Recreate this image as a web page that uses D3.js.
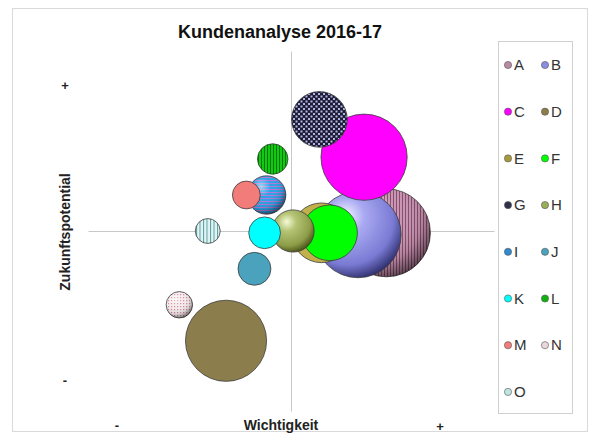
<!DOCTYPE html>
<html><head><meta charset="utf-8">
<script src="https://cdn.jsdelivr.net/npm/d3@7"></script>
<style>html,body{margin:0;padding:0;background:#fff;}svg{display:block;font-family:"Liberation Sans",Arial,sans-serif;}</style>
</head><body>
<svg id="chart" width="593" height="440"></svg>
<script>
// ---- data ----
const names  = ["A","B","C","D","E","F","G","H","I","J","K","L","M","N","O"];
const xVals  = [0.47,0.33,0.36,-0.32,0.15,0.19,0.14,0.01,-0.12,-0.18,-0.13,-0.09,-0.22,-0.55,-0.41];
const yVals  = [-0.01,-0.02,0.41,-0.61,-0.01,-0.01,0.62,0.0,0.2,-0.21,-0.01,0.4,0.2,-0.41,0.0];
const sizes  = [100,96,96,85,46,40,40,23,19,14,13,12,10,9,8];
const xTickLabels = ["-","+"];
const yTickLabels = ["-","+"];
const title = "Kundenanalyse 2016-17";
const xTitle = "Wichtigkeit";
const yTitle = "Zukunftspotential";

// ---- styles ----
const fills = {
  A:"url(#pA)", B:"url(#gB)", C:"#ff00ff", D:"#8c7e4c", E:"#c2b04a", F:"#00ff00",
  G:"url(#pG)", H:"url(#gH)", I:"url(#pI)", J:"#4aa2bc", K:"#00ffff", L:"url(#pL)",
  M:"#f27c7a", N:"url(#pN)", O:"url(#pO)"
};
const legendFills = {
  A:"#b98aa3", B:"#8c8ce0", C:"#ff00ff", D:"#8c7e4c", E:"#a89a3c", F:"#00ff00",
  G:"#30304a", H:"#9aae58", I:"#2f8ad0", J:"#4aa2bc", K:"#00ffff", L:"#10b010",
  M:"#f27c7a", N:"#e8d8dc", O:"#bfe4e4"
};
const shaded = new Set(["A","I","N"]);

const svg = d3.select("#chart");
const defs = svg.append("defs");

function stripes(id, bg, fg, vertical, period, w){
  const p = defs.append("pattern").attr("id",id).attr("patternUnits","userSpaceOnUse")
    .attr("width",period).attr("height",period);
  p.append("rect").attr("width",period).attr("height",period).attr("fill",bg);
  if(vertical) p.append("rect").attr("x",0).attr("y",0).attr("width",w).attr("height",period).attr("fill",fg);
  else p.append("rect").attr("x",0).attr("y",0).attr("width",period).attr("height",w).attr("fill",fg);
}
stripes("pA","#c896b2","#8a4a6c",true,3,1);
stripes("pI","#2ea2e6","#b07ad8",false,3,1);
stripes("pL","#12c812","#006400",true,3,0.8);
stripes("pO","#e2f4f4","#5a9ea0",true,3.5,1);
{
  const p = defs.append("pattern").attr("id","pG").attr("patternUnits","userSpaceOnUse").attr("width",5).attr("height",5);
  p.append("rect").attr("width",5).attr("height",5).attr("fill","#1c1c34");
  p.append("rect").attr("x",0.5).attr("y",0.5).attr("width",2).attr("height",2).attr("fill","#b6b6e6");
  p.append("rect").attr("x",3).attr("y",3).attr("width",2).attr("height",2).attr("fill","#b6b6e6");
}
{
  const p = defs.append("pattern").attr("id","pN").attr("patternUnits","userSpaceOnUse").attr("width",3).attr("height",3);
  p.append("rect").attr("width",3).attr("height",3).attr("fill","#f6eef0");
  p.append("rect").attr("width",1.2).attr("height",1.2).attr("fill","#d88898");
}
function radial(id, stops){
  const g = defs.append("radialGradient").attr("id",id).attr("cx","38%").attr("cy","32%").attr("r","72%").attr("fx","35%").attr("fy","28%");
  stops.forEach(s=>g.append("stop").attr("offset",s[0]).attr("stop-color",s[1]).attr("stop-opacity",s[2]==null?1:s[2]));
}
radial("gB",[["0%","#f4f4ff"],["30%","#a9a9f2"],["75%","#7a7ad4"],["100%","#2c2c6a"]]);
radial("gH",[["0%","#f6fad8"],["30%","#b4c474"],["75%","#8c9c48"],["100%","#454f14"]]);
radial("gS",[["0%","#ffffff",0.55],["35%","#ffffff",0],["75%","#000000",0.12],["100%","#000000",0.55]]);

// ---- frame ----
svg.append("rect").attr("x",12.5).attr("y",8.5).attr("width",575).attr("height",423)
  .attr("fill","#fff").attr("stroke","#d9d9d9");

// ---- scales ----
const x = d3.scaleLinear().domain([-1,1]).range([88,494]);
const y = d3.scaleLinear().domain([-1,1]).range([411,51]);
const r = d3.scaleSqrt().domain([0,d3.max(sizes)]).range([0,44]);

// axes lines through origin
const xAxis = d3.axisBottom(x).tickValues([]).tickSizeOuter(0);
const yAxis = d3.axisLeft(y).tickValues([]).tickSizeOuter(0);
svg.append("g").attr("transform",`translate(0,${y(0)})`).call(xAxis)
  .select(".domain").attr("stroke","#c8c8c8");
svg.append("g").attr("transform",`translate(${x(0)},0)`).call(yAxis)
  .select(".domain").attr("stroke","#c8c8c8");

// ---- bubbles ----
const data = names.map((n,i)=>({n, x:xVals[i], y:yVals[i], s:sizes[i]}));
const g = svg.append("g");
data.forEach(d=>{
  g.append("circle").attr("cx",x(d.x)).attr("cy",y(d.y)).attr("r",r(d.s))
    .attr("fill",fills[d.n]).attr("stroke","#3c3c3c").attr("stroke-width",0.8);
  if(shaded.has(d.n)){
    g.append("circle").attr("cx",x(d.x)).attr("cy",y(d.y)).attr("r",r(d.s))
      .attr("fill","url(#gS)").attr("stroke","none");
  }
});

// ---- titles ----
svg.append("text").attr("x",280).attr("y",38).attr("text-anchor","middle")
  .attr("font-size",18).attr("font-weight","bold").attr("fill","#111").text(title);
svg.append("text").attr("x",281).attr("y",430).attr("text-anchor","middle")
  .attr("font-size",14).attr("font-weight","bold").attr("fill","#222").text(xTitle);
svg.append("text").attr("transform","translate(70,232) rotate(-90)").attr("text-anchor","middle")
  .attr("font-size",14).attr("font-weight","bold").attr("fill","#222").text(yTitle);
// +/- labels
svg.append("text").attr("x",117).attr("y",430).attr("text-anchor","middle").attr("font-size",13).attr("font-weight","bold").attr("fill","#222").text(xTickLabels[0]);
svg.append("text").attr("x",440).attr("y",431).attr("text-anchor","middle").attr("font-size",13).attr("font-weight","bold").attr("fill","#222").text(xTickLabels[1]);
svg.append("text").attr("x",65).attr("y",90).attr("text-anchor","middle").attr("font-size",13).attr("font-weight","bold").attr("fill","#222").text(yTickLabels[1]);
svg.append("text").attr("x",65).attr("y",385).attr("text-anchor","middle").attr("font-size",13).attr("font-weight","bold").attr("fill","#222").text(yTickLabels[0]);

// ---- legend ----
svg.append("rect").attr("x",498.5).attr("y",41.5).attr("width",74).attr("height",372)
  .attr("fill","#fff").attr("stroke","#d0d0d0");
const leg = svg.append("g");
names.forEach((n,i)=>{
  const col = i%2, row = Math.floor(i/2);
  const lx = 508 + col*37, ly = 65 + row*46.7;
  leg.append("circle").attr("cx",lx).attr("cy",ly).attr("r",3.6)
    .attr("fill",legendFills[n]).attr("stroke","#555").attr("stroke-width",0.6);
  leg.append("text").attr("x",lx+6).attr("y",ly+5.2).attr("font-size",15).attr("fill","#333").text(n);
});
</script>
</body></html>
